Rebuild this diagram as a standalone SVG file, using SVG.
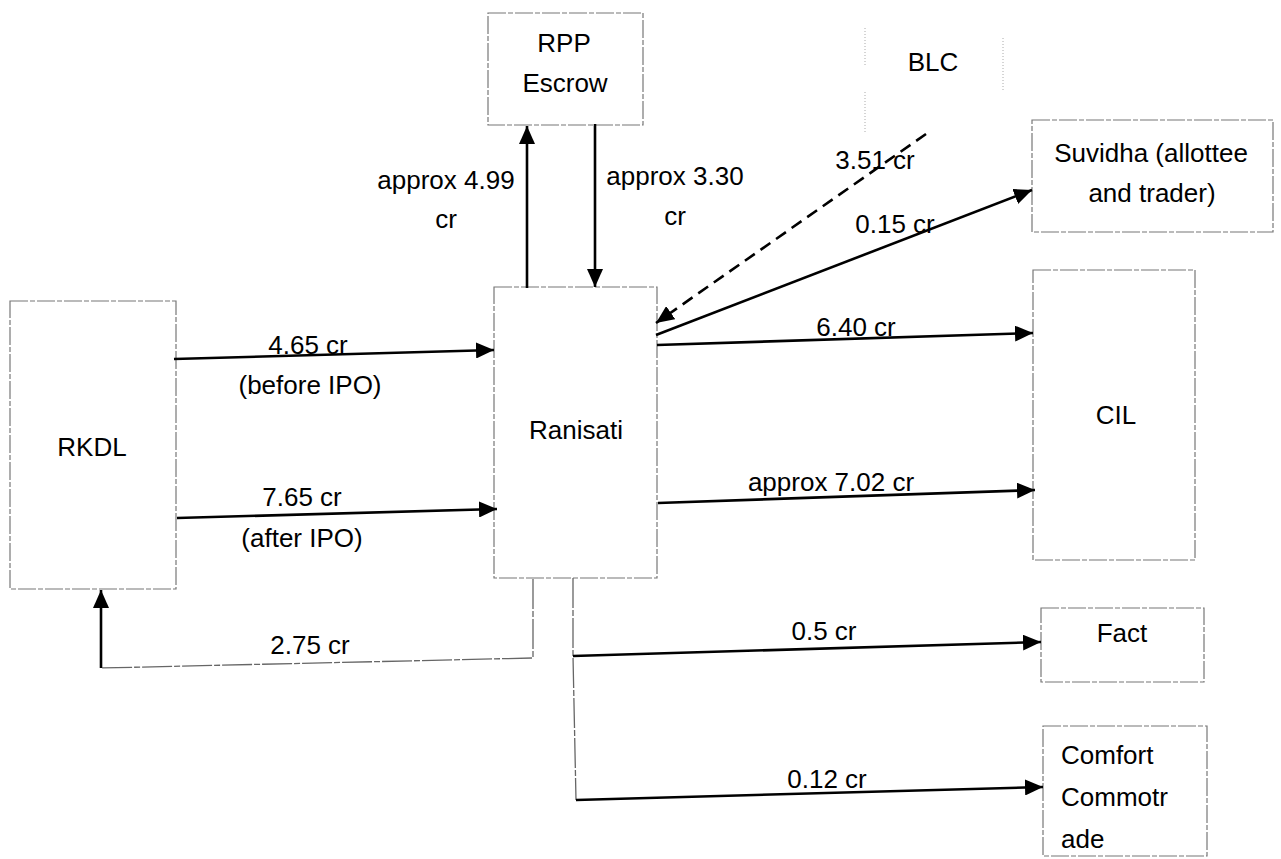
<svg xmlns="http://www.w3.org/2000/svg" width="1281" height="859" viewBox="0 0 1281 859">
<style>
.box{fill:none;stroke:#777;stroke-width:1.2;stroke-dasharray:18 2 5 2}
.dot{fill:none;stroke:#aaa;stroke-width:1;stroke-dasharray:1 2}
.t{font-family:"Liberation Sans",Arial,sans-serif;font-size:26px;fill:#000;text-anchor:middle}
.tl{font-family:"Liberation Sans",Arial,sans-serif;font-size:26px;fill:#000}
.c{fill:none;stroke:#000;stroke-width:2.6}
.cd{fill:none;stroke:#000;stroke-width:2.6;stroke-dasharray:12 7}
.thin{fill:none;stroke:#666;stroke-width:1.3;stroke-dasharray:30 2 6 2}
</style>
<defs>
<marker id="ah" markerUnits="userSpaceOnUse" markerWidth="20" markerHeight="16" refX="18" refY="8" orient="auto">
<path d="M0,0 L18,8 L0,16 Z" fill="#000"/>
</marker>
</defs>
<rect width="1281" height="859" fill="#fff"/>
<g id="RKDL"><rect class="box" x="10" y="301" width="166" height="288"/><text class="t" x="92" y="456">RKDL</text></g>
<g id="Ranisati"><rect class="box" x="494" y="287" width="163" height="291"/><text class="t" x="576" y="439">Ranisati</text></g>
<g id="RPP"><rect class="box" x="488" y="13" width="155" height="112"/><text class="t" x="564" y="52">RPP</text><text class="t" x="565" y="92">Escrow</text></g>
<g id="BLC"><line class="dot" x1="865" y1="28" x2="865" y2="67"/><line class="dot" x1="865" y1="92" x2="865" y2="134"/><line class="dot" x1="1003" y1="38" x2="1003" y2="90"/><text class="t" x="933" y="71">BLC</text></g>
<g id="Suvidha"><rect class="box" x="1032" y="120" width="241" height="112"/><text class="t" x="1151" y="162">Suvidha (allottee</text><text class="t" x="1152" y="202">and trader)</text></g>
<g id="CIL"><rect class="box" x="1033" y="270" width="162" height="290"/><text class="t" x="1116" y="424">CIL</text></g>
<g id="Fact"><rect class="box" x="1041" y="608" width="163" height="74"/><text class="t" x="1122" y="642">Fact</text></g>
<g id="Comfort"><rect class="box" x="1043" y="726" width="164" height="130"/><text class="tl" x="1061" y="764">Comfort</text><text class="tl" x="1061" y="806">Commotr</text><text class="tl" x="1061" y="848">ade</text></g>
<g id="connectors">
<line class="c" x1="174" y1="359" x2="494" y2="350" marker-end="url(#ah)"/>
<line class="c" x1="177" y1="518" x2="497" y2="509" marker-end="url(#ah)"/>
<line class="c" x1="527" y1="288" x2="527" y2="126" marker-end="url(#ah)"/>
<line class="c" x1="595" y1="124" x2="595" y2="287" marker-end="url(#ah)"/>
<line class="cd" x1="926" y1="134" x2="656" y2="323" marker-end="url(#ah)"/>
<line class="c" x1="656" y1="335" x2="1032" y2="190" marker-end="url(#ah)"/>
<line class="c" x1="657" y1="345" x2="1033" y2="333" marker-end="url(#ah)"/>
<line class="c" x1="658" y1="503" x2="1035" y2="490" marker-end="url(#ah)"/>
<polyline class="thin" points="573,578 573,656 576,800"/>
<line class="c" x1="573" y1="656" x2="1041" y2="642" marker-end="url(#ah)"/>
<line class="c" x1="576" y1="800" x2="1043" y2="787" marker-end="url(#ah)"/>
<polyline class="thin" points="533,579 533,658 101,668"/>
<line class="c" x1="101" y1="668" x2="101" y2="590" marker-end="url(#ah)"/>
</g>
<g id="labels">
<text class="t" x="308" y="354">4.65 cr</text>
<text class="t" x="310" y="394">(before IPO)</text>
<text class="t" x="302" y="506">7.65 cr</text>
<text class="t" x="302" y="547">(after IPO)</text>
<text class="t" x="310" y="654">2.75 cr</text>
<text class="t" x="446" y="189">approx 4.99</text>
<text class="t" x="446" y="228">cr</text>
<text class="t" x="675" y="185">approx 3.30</text>
<text class="t" x="675" y="225">cr</text>
<text class="t" x="875" y="169">3.51 cr</text>
<text class="t" x="895" y="233">0.15 cr</text>
<text class="t" x="856" y="336">6.40 cr</text>
<text class="t" x="831" y="491">approx 7.02 cr</text>
<text class="t" x="824" y="640">0.5 cr</text>
<text class="t" x="827" y="788">0.12 cr</text>
</g>
</svg>
